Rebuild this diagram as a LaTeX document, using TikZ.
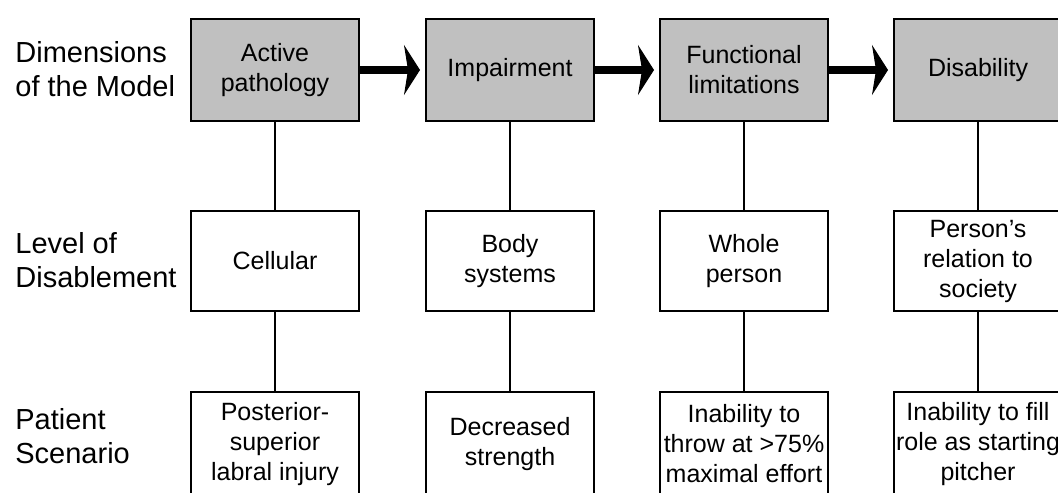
\documentclass[tikz,border=0pt]{standalone}
\usepackage{fontspec}
\setmainfont{Liberation Sans}
\usepackage{tikz}
\usetikzlibrary{arrows.meta}
\definecolor{boxgray}{RGB}{192,192,192}

\begin{document}
\begin{tikzpicture}[x=0.5pt,y=-0.5pt,
                box/.style={draw,line width=1pt,minimum width=84pt,inner xsep=0.5pt,align=center,font=\fontsize{12.5}{15}\selectfont},
                dimbox/.style={box,fill=boxgray,minimum height=51pt},
                levbox/.style={box,minimum height=50pt},
                patbox/.style={box,minimum height=52pt},
                rowlabel/.style={anchor=west,inner sep=0pt,align=left,font=\fontsize{14.5}{17}\selectfont},
                link/.style={line width=1pt},
                flow/.style={line width=4pt,shorten >=2.5pt,-{Stealth[length=8pt,width=25pt,inset=2pt,line width=0.5pt]}}]
                \useasboundingbox (0,0) rectangle (1058,492);

                \node[rowlabel] (dimlabel) at (15,69) {Dimensions\\of the Model};
                \node[rowlabel] (levlabel) at (15,260) {Level of\\Disablement};
                \node[rowlabel] (patlabel) at (15,436) {Patient\\Scenario};

                \node[dimbox] (dim1) at (275,70) {Active\\pathology};
                \node[dimbox] (dim2) at (510,70) {Impairment};
                \node[dimbox] (dim3) at (744,70) {Functional\\limitations};
                \node[dimbox] (dim4) at (978,70) {Disability};

                \node[levbox] (lev1) at (275,261) {Cellular};
                \node[levbox] (lev2) at (510,261) {Body\\systems};
                \node[levbox] (lev3) at (744,261) {Whole\\person};
                \node[levbox] (lev4) at (978,261) {Person's\\relation to\\society};

                \node[patbox] (pat1) at (275,444) {Posterior-\\superior\\labral injury};
                \node[patbox] (pat2) at (510,444) {Decreased\\strength};
                \node[patbox] (pat3) at (744,444) {Inability to\\throw at >75\%\\maximal effort};
                \node[patbox] (pat4) at (978,444) {Inability to fill\\role as starting\\pitcher};

                \draw[flow] (dim1) -- (dim2);
                \draw[flow] (dim2) -- (dim3);
                \draw[flow] (dim3) -- (dim4);

                \draw[link] (dim1) -- (lev1);
                \draw[link] (dim2) -- (lev2);
                \draw[link] (dim3) -- (lev3);
                \draw[link] (dim4) -- (lev4);

                \draw[link] (lev1) -- (pat1);
                \draw[link] (lev2) -- (pat2);
                \draw[link] (lev3) -- (pat3);
                \draw[link] (lev4) -- (pat4);
            \end{tikzpicture}
\end{document}
